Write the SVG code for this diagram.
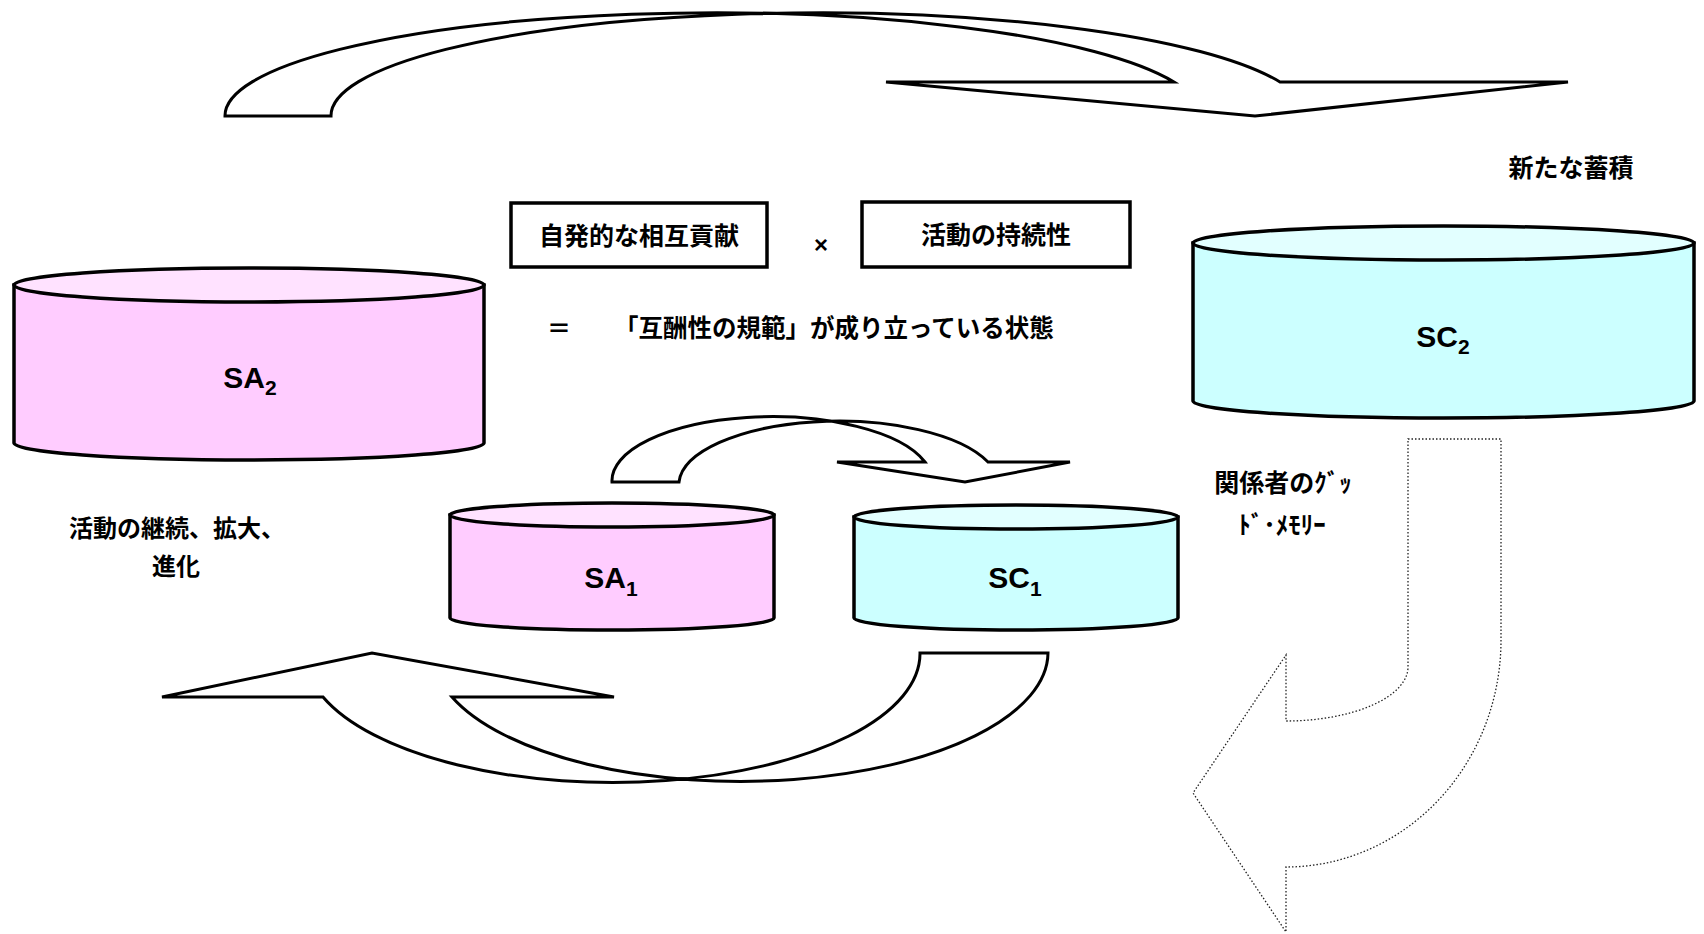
<svg xmlns="http://www.w3.org/2000/svg" width="1704" height="934" viewBox="0 0 1704 934">
<style>
.bg{fill:#ffffff}
.arrow{fill:#ffffff;stroke:#000;stroke-width:3;stroke-linejoin:miter}
.dotted{fill:#ffffff;stroke:#222;stroke-width:1.3;stroke-dasharray:1.5 2}
.pinkBody{fill:#FFCCFF;stroke:#000;stroke-width:3.5}
.pinkTop{fill:#FFE2FF;stroke:#000;stroke-width:3.5}
.cyanBody{fill:#CCFFFF;stroke:#000;stroke-width:3.5}
.cyanTop{fill:#E2FFFF;stroke:#000;stroke-width:3.5}
.box{fill:#ffffff;stroke:#000;stroke-width:3.5}
.jp{font-family:"Noto Sans CJK JP","Noto Sans CJK SC",sans-serif;font-weight:700;fill:#000}
.lbl{font-family:"Liberation Sans",Arial,sans-serif;font-size:30px;font-weight:700;fill:#000;text-anchor:middle}
.sub{font-size:21px}
</style>
<rect class="bg" x="0" y="0" width="1704" height="934"/>

<g id="connectors">
  <path id="arrow-top" class="arrow" d="M225,116 A488,103 0 0 1 1174,82 L886,82 L1255,116 L1568,82 L1280,82 A488,103 0 0 0 331,116 Z"/>
  <path id="arrow-middle" class="arrow" d="M612,482 A160,64 0 0 1 925,462 L837,462 L965,482 L1070,462 L988,462 A160,64 0 0 0 679,482 Z"/>
  <path id="arrow-bottom" class="arrow" d="M1048,653 A307.5,129 0 0 1 452,697 L614,697 L372,653 L162,697 L323,697 A307.5,129 0 0 0 920,653 Z"/>
  <path id="arrow-right" class="dotted" d="M1408,439 L1501,439 L1501,640 A215,227 0 0 1 1286,867 L1286,932 L1193,793 L1286,655 L1286,721 A122,54 0 0 0 1408,667 Z"/>
</g>

<g id="SA2">
  <path class="pinkBody" d="M14,285 L14,443 A235,17 0 0 0 484,443 L484,285 Z"/>
  <ellipse class="pinkTop" cx="249" cy="285" rx="235" ry="17"/>
  <text class="lbl" x="250" y="388">SA<tspan class="sub" dy="7">2</tspan></text>
</g>

<g id="SC2">
  <path class="cyanBody" d="M1193,243 L1193,401 A250.5,17 0 0 0 1694,401 L1694,243 Z"/>
  <ellipse class="cyanTop" cx="1443.5" cy="243" rx="250.5" ry="17"/>
  <text class="lbl" x="1443" y="347">SC<tspan class="sub" dy="7">2</tspan></text>
</g>

<g id="SA1">
  <path class="pinkBody" d="M450,515 L450,618 A162,12 0 0 0 774,618 L774,515 Z"/>
  <ellipse class="pinkTop" cx="612" cy="515" rx="162" ry="12"/>
  <text class="lbl" x="611" y="588">SA<tspan class="sub" dy="8">1</tspan></text>
</g>

<g id="SC1">
  <path class="cyanBody" d="M854,517 L854,618 A162,12 0 0 0 1178,618 L1178,517 Z"/>
  <ellipse class="cyanTop" cx="1016" cy="517" rx="162" ry="12"/>
  <text class="lbl" x="1015" y="588">SC<tspan class="sub" dy="8">1</tspan></text>
</g>

<g id="box-contribution">
  <rect class="box" x="511" y="203" width="256" height="64"/>
  <text class="jp" x="639" y="245" font-size="25" text-anchor="middle">自発的な相互貢献</text>
</g>

<g id="times">
  <text x="821" y="253" font-family="Liberation Sans, Arial, sans-serif" font-weight="700" font-size="24" text-anchor="middle">×</text>
</g>

<g id="box-sustainability">
  <rect class="box" x="862" y="202" width="268" height="65"/>
  <text class="jp" x="996" y="244" font-size="25" text-anchor="middle">活動の持続性</text>
</g>

<g id="equation">
  <text class="jp" x="559" y="337" font-size="24" text-anchor="middle">＝</text>
  <text class="jp" x="614" y="337" font-size="24.5">「互酬性の規範」が成り立っている状態</text>
</g>

<g id="label-new">
  <text class="jp" x="1571" y="177" font-size="25" text-anchor="middle">新たな蓄積</text>
</g>

<g id="label-memory">
  <text class="jp" x="1283" y="492" font-size="25" text-anchor="middle">関係者のｸﾞｯ</text>
  <text class="jp" x="1282" y="534" font-size="25" text-anchor="middle">ﾄﾞ･ﾒﾓﾘｰ</text>
</g>

<g id="label-activity">
  <text class="jp" x="177" y="537" font-size="24" text-anchor="middle">活動の継続、拡大、</text>
  <text class="jp" x="176" y="575" font-size="24" text-anchor="middle">進化</text>
</g>
</svg>
